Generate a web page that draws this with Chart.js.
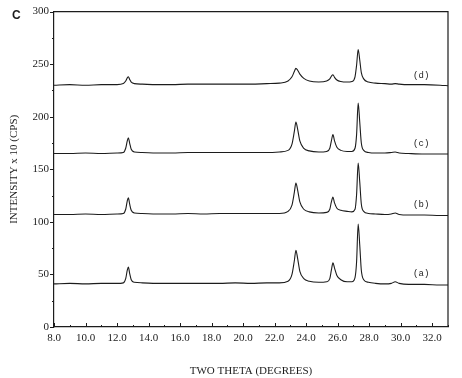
<!DOCTYPE html>
<html>
<head>
<meta charset="utf-8">
<script src="https://cdn.jsdelivr.net/npm/chart.js@4.4.1/dist/chart.umd.min.js"></script>
<style>
  body { margin: 0; background: #fff; }
  canvas { display: block; }
</style>
</head>
<body>
<canvas id="xrd" width="462" height="378"></canvas>
<script>
// two theta positions (degrees), shared by all four patterns
var twoTheta = [8.0, 9.0, 10.0, 11.0, 12.0, 12.4, 12.55, 12.65, 12.72, 12.8, 12.9, 13.1, 13.6, 14.5, 15.5, 16.5, 17.5, 18.5, 19.5, 20.5, 21.5, 22.3, 22.85, 23.1, 23.25, 23.35, 23.45, 23.6, 23.85, 24.2, 24.8, 25.3, 25.5, 25.6, 25.7, 25.8, 25.95, 26.2, 26.6, 26.9, 27.1, 27.2, 27.3, 27.4, 27.5, 27.65, 27.95, 28.4, 29.0, 29.4, 29.65, 29.9, 30.5, 31.5, 32.5, 33.0];

// intensity x 10 (cps)
var patternA = [41, 41.5, 41, 41.5, 41.5, 42, 46, 54, 57, 51, 45, 42.5, 42, 41.5, 41.5, 41.5, 41.5, 41.5, 42, 41.5, 42, 42, 43.5, 50, 63, 73, 66, 53, 46, 43.5, 42.5, 43, 46, 54, 61, 56, 49, 45, 43, 43, 47, 62, 98, 78, 54, 45, 42.5, 41.5, 41, 41.5, 43, 41.5, 40.5, 40.5, 40, 40];
var patternB = [107, 107, 107.5, 107, 107.5, 108, 112, 120, 123, 117, 111, 108.5, 108, 107.5, 107.5, 108, 107.5, 108, 108, 108, 108, 108, 110, 116, 128, 137, 131, 119, 112, 109.5, 108.5, 109, 112, 119, 123.5, 118, 113, 111, 110, 109.5, 112, 126, 156, 138, 117, 110, 108, 107.5, 107, 107.5, 108.5, 107, 106.5, 106.5, 106, 106];
var patternC = [165, 165, 165.5, 165, 165.5, 166, 170, 177, 180, 175, 169, 166.5, 166, 165.5, 165.5, 166, 166, 166, 166, 166, 166, 166.5, 168, 174, 186, 195, 189, 177, 170, 167.5, 166.5, 167, 170, 177, 183, 177, 171, 168, 167, 167, 170, 183, 213, 195, 175, 168, 166, 165.5, 165.5, 166, 166.5, 165.5, 165, 164.5, 164.5, 164.5];
var patternD = [230, 230.5, 230, 230.5, 230.5, 231.5, 234, 237, 238, 235.5, 233, 231.5, 231, 230.5, 230.5, 231, 231, 231, 231, 231, 231.5, 232, 234, 238, 243, 246, 244.5, 240.5, 236.5, 234, 233, 234, 236, 238.5, 240, 237.5, 235, 233.5, 233, 233.5, 238, 249, 264, 254, 242, 236, 233, 232, 231.5, 231, 231.5, 231, 230.5, 230.5, 230, 229.5];

var seriesNames = ['(a)', '(b)', '(c)', '(d)'];
var xTicks = [8, 10, 12, 14, 16, 18, 20, 22, 24, 26, 28, 30, 32];
var yTicks = [0, 50, 100, 150, 200, 250, 300];

var ink = '#1c1c1c';
var serif = '"Liberation Serif", "Times New Roman", serif';

function toPoints(ys) {
    return twoTheta.map(function (x, i) { return { x: x, y: ys[i] }; });
}

var frame = {
    id: 'frame',
    afterDraw: function (chart, args, opts) {
        var ctx = chart.ctx;
        var a = chart.chartArea;
        var xs = chart.scales.x, ys = chart.scales.y;
        ctx.save();
        ctx.strokeStyle = ink;
        ctx.lineWidth = 1.2;
        ctx.beginPath();
        ctx.moveTo(a.left, a.top); ctx.lineTo(a.right, a.top); ctx.lineTo(a.right, a.bottom);
        ctx.stroke();
        // tick marks
        ctx.lineWidth = 1;
        ctx.beginPath();
        for (var v = 0; v <= 300; v += 25) {
            var py = Math.round(ys.getPixelForValue(v)) + 0.5;
            ctx.moveTo(a.left, py);
            ctx.lineTo(a.left - (v % 50 === 0 ? 4 : 2), py);
        }
        for (var t = 8; t <= 33; t += 1) {
            var px = Math.round(xs.getPixelForValue(t)) + 0.5;
            ctx.moveTo(px, a.bottom);
            ctx.lineTo(px, a.bottom - (t % 2 === 0 ? 4 : 2));
        }
        ctx.stroke();
        // pattern labels
        ctx.fillStyle = ink;
        ctx.font = '9px "Liberation Mono", monospace';
        ctx.textAlign = 'center';
        ctx.textBaseline = 'middle';
        seriesNames.forEach(function (name, i) {
            ctx.fillText(name, xs.getPixelForValue(opts.labelX), ys.getPixelForValue(opts.labelY[i]));
        });
        // panel letter
        ctx.font = 'bold 12px "Liberation Sans", Arial, sans-serif';
        ctx.textAlign = 'left';
        ctx.textBaseline = 'alphabetic';
        ctx.fillText('C', 12, 19);
        ctx.restore();
    }
};

var ctx = document.getElementById('xrd').getContext('2d');
var chart = new Chart(ctx, {
    type: 'line',
    data: {
        datasets: [patternA, patternB, patternC, patternD].map(function (ys, i) {
            return {
                label: seriesNames[i],
                data: toPoints(ys),
                borderColor: ink,
                borderWidth: 1.1,
                pointRadius: 0,
                fill: false,
                cubicInterpolationMode: 'monotone'
            };
        })
    },
    options: {
        responsive: false,
        animation: false,
        layout: { padding: { top: 11, right: 14, left: 0, bottom: 0 } },
        plugins: {
            legend: { display: false },
            tooltip: { enabled: false },
            frame: { labelX: 31.3, labelY: [51, 116, 174, 239] }
        },
        scales: {
            x: {
                type: 'linear',
                min: 8,
                max: 33,
                grid: { display: false, drawTicks: false },
                border: { display: true, color: ink, width: 1.2 },
                afterBuildTicks: function (s) { s.ticks = xTicks.map(function (v) { return { value: v }; }); },
                afterFit: function (s) { s.height = 51; },
                ticks: {
                    color: ink,
                    padding: 5,
                    maxRotation: 0,
                    font: { family: serif, size: 11 },
                    callback: function (v) { return Number(v).toFixed(1); }
                },
                title: {
                    display: true,
                    text: 'TWO THETA (DEGREES)',
                    color: ink,
                    font: { family: serif, size: 11 },
                    padding: { top: 0, bottom: 0 }
                }
            },
            y: {
                min: 0,
                max: 300,
                grid: { display: false, drawTicks: false },
                border: { display: true, color: ink, width: 1.2 },
                afterBuildTicks: function (s) { s.ticks = yTicks.map(function (v) { return { value: v }; }); },
                afterFit: function (s) { s.width = 54; },
                ticks: {
                    color: ink,
                    padding: 5,
                    font: { family: serif, size: 11 }
                },
                title: {
                    display: true,
                    text: 'INTENSITY x 10 (CPS)',
                    color: ink,
                    font: { family: serif, size: 11 },
                    padding: { top: 8, bottom: 0 }
                }
            }
        }
    },
    plugins: [frame]
});
</script>
</body>
</html>
